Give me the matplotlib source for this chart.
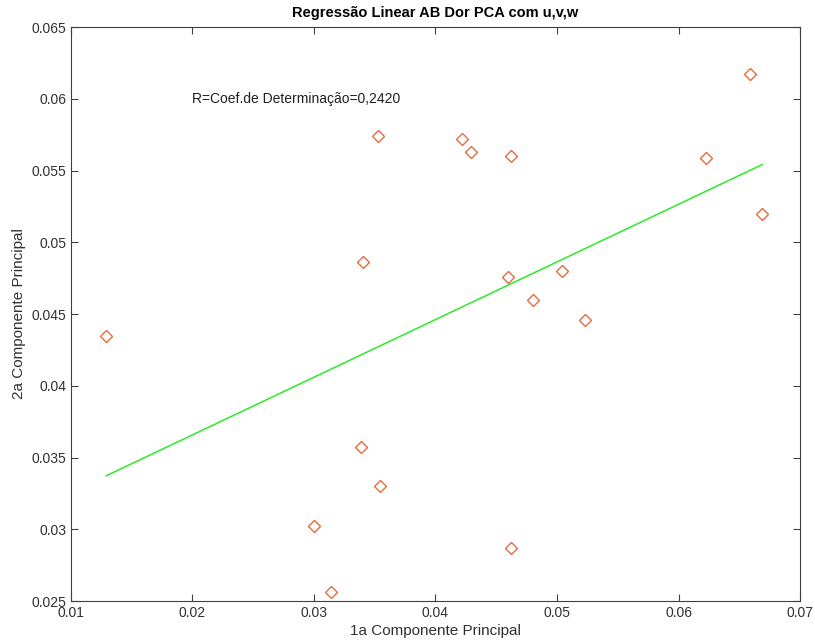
import matplotlib
matplotlib.use('Agg')
import matplotlib.pyplot as plt
import numpy as np

# Dados
comp1 = [0.0129, 0.0300, 0.0314, 0.0339, 0.0340, 0.0353, 0.0354, 0.0422, 0.0429,
         0.0462, 0.0460, 0.0462, 0.0480, 0.0504, 0.0523, 0.0623, 0.0659, 0.0669]
comp2 = [0.0435, 0.0302, 0.0256, 0.0357, 0.0486, 0.0574, 0.0330, 0.0572, 0.0563,
         0.0560, 0.0476, 0.0287, 0.0460, 0.0480, 0.0446, 0.0559, 0.0617, 0.0520]
xticks = [0.01, 0.02, 0.03, 0.04, 0.05, 0.06, 0.07]
yticks = [0.025, 0.03, 0.035, 0.04, 0.045, 0.05, 0.055, 0.06, 0.065]

plt.rcParams['font.family'] = ['Liberation Sans', 'DejaVu Sans']

x = np.array(comp1)
y = np.array(comp2)
coef = np.polyfit(x, y, 1)
xl = np.array([x.min(), x.max()])

fig = plt.figure(figsize=(8.15, 6.43), dpi=100)
ax = fig.add_axes([0.0871, 0.0653, 0.8945, 0.8927])

ax.plot(x, y, linestyle='none', marker='D', markersize=6, markerfacecolor='none',
        markeredgecolor='#e66a40', markeredgewidth=1.0)
ax.plot(xl, np.polyval(coef, xl), color='#2aea2a', linewidth=1.1)

ax.text(0.02, 0.06, 'R=Coef.de Determinação=0,2420', fontsize=10, va='center', color='#202020')

ax.set_xlim(0.01, 0.07)
ax.set_ylim(0.025, 0.065)
ax.set_xticks(xticks)
ax.set_yticks(yticks)
ax.set_xticklabels([f'{v:g}' for v in xticks])
ax.set_yticklabels([f'{v:g}' for v in yticks])
ax.tick_params(direction='in', top=True, right=True, length=5, width=0.8,
               colors='#404040', labelsize=10, labelcolor='#303030')
for s in ax.spines.values():
    s.set_color('#404040')
    s.set_linewidth(0.8)

ax.set_title('Regressão Linear AB Dor PCA com u,v,w', fontsize=10.5, fontweight='bold', pad=7)
ax.set_xlabel('1a Componente Principal', fontsize=11, color='#303030', labelpad=3)
ax.set_ylabel('2a Componente Principal', fontsize=11, color='#303030', labelpad=4)

plt.savefig('out.png', dpi=100)
plt.close()
